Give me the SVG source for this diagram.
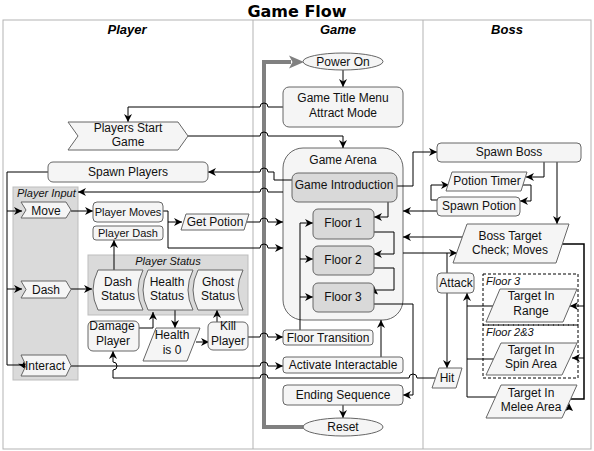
<svg xmlns="http://www.w3.org/2000/svg" width="594" height="451" viewBox="0 0 594 451">
<style>
text{font-family:"Liberation Sans",Arial,sans-serif;font-size:12px;fill:#111;text-anchor:middle}
.h{font-family:"Liberation Sans",Arial,sans-serif;font-weight:bold;font-style:italic;font-size:13px;fill:#000}
.t{font-family:"DejaVu Sans",Verdana,sans-serif;font-weight:bold;font-size:16px;fill:#000}
.s{font-size:11px}
.gl{font-size:11px;font-style:italic;text-anchor:start}
.n{fill:#f5f5f5;stroke:#666;stroke-width:1}
.dk{fill:#d9d9d9;stroke:#666;stroke-width:1}
.grp{fill:#dadada;stroke:#bdbdbd;stroke-width:1}
.dash{fill:none;stroke:#000;stroke-width:1;stroke-dasharray:3 2}
.lane{fill:none;stroke:#b3b3b3;stroke-width:1}
.e{fill:none;stroke:#000;stroke-width:1}
.ea{fill:none;stroke:#000;stroke-width:1;marker-end:url(#ar)}
</style>
<defs>
<marker id="ar" viewBox="0 0 10 10" refX="10" refY="5" markerWidth="8" markerHeight="8" markerUnits="userSpaceOnUse" orient="auto"><path d="M0,0 L10,5 L0,10 L3,5 z" fill="#000"/></marker>
</defs>
<rect width="594" height="451" fill="#fff"/>
<text class="t" x="297" y="17">Game Flow</text>
<g id="lanes">
<rect class="lane" x="3" y="20" width="588" height="429"/>
<line class="lane" x1="253" y1="20" x2="253" y2="449"/>
<line class="lane" x1="423" y1="20" x2="423" y2="449"/>
<text class="h" x="127" y="34">Player</text>
<text class="h" x="338" y="34">Game</text>
<text class="h" x="507" y="34">Boss</text>
</g>
<g id="groups">
<g id="player-input"><rect class="grp" x="13" y="187" width="65" height="193"/><text class="gl" x="17" y="197">Player Input</text></g>
<g id="player-status"><rect class="grp" x="88" y="255" width="160" height="60"/><text class="s" x="168" y="265" style="font-style:italic">Player Status</text></g>
<g id="game-arena"><rect class="n" x="283" y="148" width="120" height="172" rx="20"/><text x="343" y="164">Game Arena</text></g>
<g id="floor3-group"><rect class="dash" x="483" y="274" width="95" height="51"/><text class="gl" x="486" y="285">Floor 3</text></g>
<g id="floor23-group"><rect class="dash" x="483" y="325" width="95" height="53"/><text class="gl" x="486" y="336">Floor 2&amp;3</text></g>
</g>
<g id="connectors">
<path d="M305,427 H264 V62 H291" fill="none" stroke="#808080" stroke-width="4"/>
<polygon points="304,62 289,55.5 292.5,62 289,68.5" fill="#808080"/>
<path class="ea" d="M343,70 V87"/>
<path class="ea" d="M283,107 H268 A4,4 0 0 0 260,107 H128 V122"/>
<path class="ea" d="M188,136 H260 A4,4 0 0 1 268,136 H343 V148"/>
<path class="ea" d="M292,180 H274 V172 H268 A4,4 0 0 0 260,172 H208"/>
<path class="ea" d="M283,192 H268 A4,4 0 0 0 260,192 H78"/>
<path class="ea" d="M163,211 H168 V222 H182"/>
<path class="ea" d="M168,222 V248 H260 A4,4 0 0 1 268,248 H283"/>
<path class="ea" d="M247,222 H260 A4,4 0 0 1 268,222 H283"/>
<path class="ea" d="M71,211 H93"/>
<path class="e" d="M48,172 H7 V365 H23"/>
<path class="ea" d="M23,365 L25,369"/>
<path class="ea" d="M7,211 H22"/>
<path class="ea" d="M7,289 H22"/>
<path class="ea" d="M71,289 H92"/>
<path class="ea" d="M114,270 V240"/>
<path class="ea" d="M139,328 H153 V312"/>
<path class="ea" d="M175,310 V328"/>
<path class="ea" d="M196,342 H209"/>
<path class="ea" d="M217,322 V310"/>
<path class="ea" d="M248,337 H260 A4,4 0 0 1 268,337 H283"/>
<path class="ea" d="M71,366 H260 A4,4 0 0 1 268,366 H283"/>
<path class="ea" d="M435,378 H417 A4,4 0 0 0 409,378 H268 A4,4 0 0 0 260,378 H113 V370 A4,4 0 0 0 113,362 V351"/>
<path class="e" d="M300,330 V223"/>
<path class="ea" d="M300,223 H313"/>
<path class="ea" d="M300,259 H313"/>
<path class="ea" d="M300,297 H313"/>
<path class="ea" d="M388,202 V217 H374"/>
<path class="ea" d="M374,232 H394 V254 H374"/>
<path class="e" d="M374,268 H394 V290 H376"/>
<polygon points="374,286 378,294.5 374,293 370,294.5" fill="#000"/>
<path class="ea" d="M374,304 H413 V395 H403"/>
<path class="ea" d="M381,357 V320"/>
<path class="ea" d="M343,405 V418"/>
<path class="ea" d="M397,186 H413 V152 H437"/>
<path class="ea" d="M557,162 V224"/>
<path class="ea" d="M544,162 V177 H526"/>
<path class="ea" d="M523,185 H531 V201 H520"/>
<path class="ea" d="M437,200 H431 V185 H449"/>
<path class="ea" d="M437,211 H403"/>
<path class="ea" d="M462,237 H403"/>
<path class="ea" d="M403,253 H457"/>
<path class="e" d="M447,273 V253"/>
<path class="ea" d="M447,293 V368"/>
<path class="e" d="M562,244 H584 V399 H571" style="stroke-width:1.5"/>
<polygon points="569,403 573,411 569,409.5 565,411" fill="#000"/>
<path class="ea" d="M584,306 H570"/>
<path class="ea" d="M584,358 H572"/>
<path class="e" d="M493,306 H467"/>
<path class="e" d="M494,359 H467"/>
<path class="ea" d="M496,397 H467 V293"/>
</g>
<g id="power-on"><ellipse class="n" cx="343" cy="61.5" rx="40" ry="8.5"/><text x="343" y="66">Power On</text></g>
<g id="title-menu"><rect class="n" x="283" y="87" width="120" height="40" rx="6"/><text x="343" y="102">Game Title Menu</text><text x="343" y="117">Attract Mode</text></g>
<g id="players-start"><polygon class="n" points="68,122 178,122 188,136 178,150 68,150 78,136"/><text x="128" y="132">Players Start</text><text x="128" y="146">Game</text></g>
<g id="spawn-players"><rect class="n" x="48" y="162" width="160" height="20" rx="5"/><text x="128" y="176">Spawn Players</text></g>
<g id="game-intro"><rect class="dk" x="292" y="173" width="105" height="29" rx="6"/><text x="344" y="189">Game Introduction</text></g>
<g id="floor1"><rect class="dk" x="313" y="209" width="61" height="30" rx="5"/><text x="343" y="227">Floor 1</text></g>
<g id="floor2"><rect class="dk" x="313" y="246" width="61" height="29" rx="5"/><text x="343" y="264">Floor 2</text></g>
<g id="floor3"><rect class="dk" x="313" y="283" width="61" height="29" rx="5"/><text x="343" y="301">Floor 3</text></g>
<g id="floor-transition"><rect class="n" x="283" y="330" width="90" height="15" rx="3"/><text x="328" y="341.5">Floor Transition</text></g>
<g id="activate"><rect class="n" x="283" y="357" width="120" height="16" rx="3"/><text x="343" y="369">Activate Interactable</text></g>
<g id="ending"><rect class="n" x="283" y="385" width="120" height="20" rx="4"/><text x="343" y="399">Ending Sequence</text></g>
<g id="reset"><ellipse class="n" cx="343" cy="427" rx="40" ry="9"/><text x="343" y="431">Reset</text></g>
<g id="move"><polygon class="n" points="21,202 66,202 71,210 66,218 21,218 26,210"/><text x="46" y="215">Move</text></g>
<g id="dash"><polygon class="n" points="21,281 66,281 71,289.5 66,298 21,298 26,289.5"/><text x="46" y="294">Dash</text></g>
<g id="interact"><polygon class="n" points="21,355 66,355 71,365.5 66,376 21,376 26,365.5"/><text x="45" y="369.5">Interact</text></g>
<g id="player-moves"><rect class="n" x="93" y="202" width="70" height="20" rx="4"/><text class="s" x="128" y="216">Player Moves</text></g>
<g id="player-dash"><rect class="n" x="93" y="226" width="70" height="14" rx="3"/><text class="s" x="128" y="237">Player Dash</text></g>
<g id="get-potion"><polygon class="n" points="186,214 249,214 244,230 181,230"/><text x="215" y="226">Get Potion</text></g>
<g id="dash-status"><path class="n" d="M98,270 H143 Q133,290 143,310 H98 Q88,290 98,270 Z"/><text x="118" y="286">Dash</text><text x="118" y="300">Status</text></g>
<g id="health-status"><path class="n" d="M148,270 H193 Q183,290 193,310 H148 Q138,290 148,270 Z"/><text x="167" y="286">Health</text><text x="167" y="300">Status</text></g>
<g id="ghost-status"><path class="n" d="M198,270 H243 Q233,290 243,310 H198 Q188,290 198,270 Z"/><text x="218" y="286">Ghost</text><text x="218" y="300">Status</text></g>
<g id="damage-player"><rect class="n" x="88" y="321" width="51" height="30" rx="5"/><text x="112" y="330">Damage</text><text x="113" y="345">Player</text></g>
<g id="health-zero"><polygon class="n" points="156,328 200,328 187,361 143,361"/><text x="172" y="339">Health</text><text x="172" y="354">is 0</text></g>
<g id="kill-player"><rect class="n" x="208" y="322" width="40" height="28" rx="5"/><text x="228" y="330">Kill</text><text x="228" y="345">Player</text></g>
<g id="spawn-boss"><rect class="n" x="437" y="143" width="144" height="19" rx="4"/><text x="509" y="156">Spawn Boss</text></g>
<g id="potion-timer"><polygon class="n" points="452,172 527,172 521,191 446,191"/><text x="487" y="185">Potion Timer</text></g>
<g id="spawn-potion"><rect class="n" x="437" y="197" width="83" height="19" rx="4"/><text x="479" y="210">Spawn Potion</text></g>
<g id="boss-target"><polygon class="n" points="467,224 569,224 556,263 453,263"/><text x="510" y="240">Boss Target</text><text x="510" y="254">Check; Moves</text></g>
<g id="attack"><rect class="n" x="437" y="273" width="37" height="20" rx="4"/><text x="456" y="287">Attack</text></g>
<g id="hit"><polygon class="n" points="439,368 462,368 456,388 432,388"/><text x="447" y="382">Hit</text></g>
<g id="target-range"><polygon class="n" points="500,289 577,289 563,322 486,322"/><text x="531" y="300">Target In</text><text x="531" y="315">Range</text></g>
<g id="target-spin"><polygon class="n" points="501,343 577,343 562,375 486,375"/><text x="531" y="354">Target In</text><text x="531" y="368">Spin Area</text></g>
<g id="target-melee"><polygon class="n" points="501,385 577,385 562,418 486,418"/><text x="531" y="397">Target In</text><text x="531" y="411">Melee Area</text></g>
</svg>
